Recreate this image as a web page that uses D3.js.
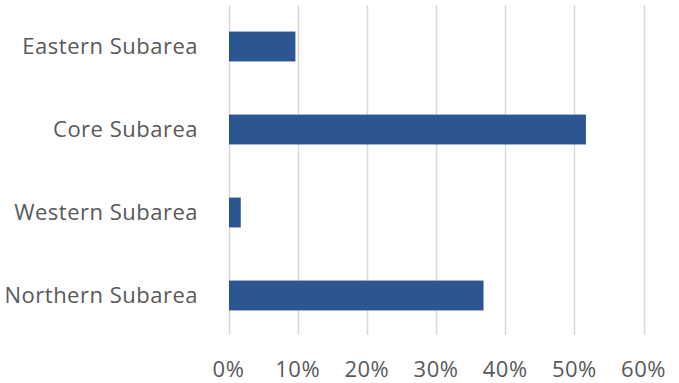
<!DOCTYPE html>
<html>
<head>
<meta charset="utf-8">
<script src="https://cdn.jsdelivr.net/npm/d3@7"></script>
<style>
  body { margin: 0; background: #fff; }
  text { font-family: "Open Sans", sans-serif; fill: #595959; }
</style>
</head>
<body>
<div id="chart"></div>
<script>
const width = 679;
const height = 383;

// data
const categories = ["Eastern Subarea", "Core Subarea", "Western Subarea", "Northern Subarea"];
const shares = [0.096, 0.516, 0.017, 0.368];
const ticks = [0, 0.1, 0.2, 0.3, 0.4, 0.5, 0.6];

const data = categories.map((c, i) => ({ name: c, value: shares[i] }));

const xScale = d3.scaleLinear()
  .domain([0, 0.6])
  .range([228.5, 643.5]);

const yScale = d3.scaleBand()
  .domain(categories)
  .range([5, 337])
  .paddingInner(0.64)
  .paddingOuter(0.32);

const svg = d3.select("#chart")
  .append("svg")
    .attr("width", width)
    .attr("height", height);

// gridlines
svg.append("g")
  .selectAll("line")
  .data(ticks)
  .join("line")
    .attr("x1", d => Math.round(xScale(d)) + 0.5)
    .attr("x2", d => Math.round(xScale(d)) + 0.5)
    .attr("y1", 5)
    .attr("y2", 335)
    .attr("stroke", "#d9d9d9")
    .attr("stroke-width", 1.5);

// bars
svg.append("g")
  .selectAll("rect")
  .data(data)
  .join("rect")
    .attr("x", xScale(0) + 0.5)
    .attr("y", d => yScale(d.name))
    .attr("width", d => xScale(d.value) - xScale(0))
    .attr("height", yScale.bandwidth())
    .attr("fill", "#2c5592");

// category labels
svg.append("g")
  .selectAll("text")
  .data(categories)
  .join("text")
    .text(d => d)
    .attr("x", 198)
    .attr("y", d => yScale(d) + yScale.bandwidth() / 2 - 2)
    .attr("text-anchor", "end")
    .attr("dominant-baseline", "central")
    .style("font-size", "22px")
    .style("letter-spacing", "0.5px");

// x tick labels
svg.append("g")
  .selectAll("text")
  .data(ticks)
  .join("text")
    .text(d => d3.format(".0%")(d))
    .attr("x", d => xScale(d))
    .attr("y", 377)
    .attr("text-anchor", "middle")
    .style("font-size", "22px")
    .style("letter-spacing", "0.5px");
</script>
</body>
</html>
